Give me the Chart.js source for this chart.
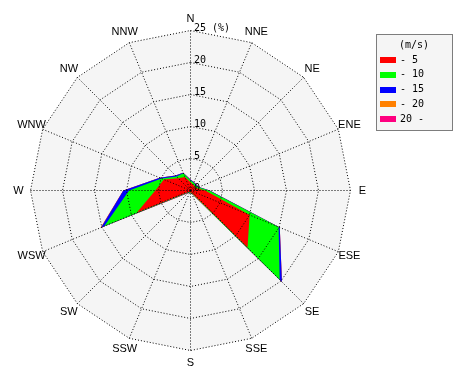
<!DOCTYPE html>
<html><head><meta charset="utf-8">
<script src="https://cdn.jsdelivr.net/npm/chart.js@4/dist/chart.umd.min.js"></script>
<style>html,body{margin:0;padding:0;background:#fff;}#wrap{width:470px;height:380px;position:relative;}</style>
</head><body><div id="wrap"><canvas id="c" width="470" height="380"></canvas></div>
<script>
// Wind directions (clockwise from North)
const directions = ['N','NNE','NE','ENE','E','ESE','SE','SSE','S','SSW','SW','WSW','W','WNW','NW','NNW'];
// Speed classes (m/s)
const speedClasses = ['- 5','- 10','- 15','- 20','20 -'];
const classColors = ['#ff0000','#00ff00','#0000ff','#ff8000','#ff0080'];
// Frequency (%) per direction for each speed class (not cumulative)
const speedUpTo5   = [1.3,1.0,0.9,1.0,2.3,10.0,12.6,0.4,0.3,0.3,0.3,9.1,5.5,4.5,2.7,2.3];
const speed5to10   = [0.3,0.3,0.3,0.3,0.6, 4.9, 7.1,0.1,0.1,0.1,0.1,5.5,4.1,0.4,0.4,0.6];
const speed10to15  = [0.1,0.1,0.1,0.1,0.1, 0.2, 0.5,0.0,0.0,0.0,0.1,0.5,0.9,0.3,0.2,0.1];
const speed15to20  = [0.0,0.0,0.0,0.0,0.0, 0.0, 0.0,0.0,0.0,0.0,0.1,0.1,0.0,0.0,0.0,0.0];
const speedOver20  = [0.0,0.0,0.0,0.0,0.0, 0.0, 0.0,0.0,0.0,0.0,0.0,0.0,0.0,0.0,0.0,0.0];
// Radial tick labels
const radialTickValues = [0,5,10,15,20,25];
const radialTickLabels = ['0','5','10','15','20','25 (%)'];
const legendTitle = '(m/s)';

const classSeries = [speedUpTo5, speed5to10, speed10to15, speed15to20, speedOver20];
// stacked (cumulative) values for the rose
const cumulative = [];
classSeries.forEach((s, k) => {
  cumulative.push(s.map((v, i) => +(v + (k ? cumulative[k-1][i] : 0)).toFixed(2)));
});

const CX = 190.5, CY = 190.5, RAD = 160, LABEL_R = 172;
const BG = '#f5f5f5';
const MONO = '"DejaVu Sans Mono", "Liberation Mono", monospace';
const LABEL_FONT = { family: '"Liberation Sans", Arial, sans-serif', size: 11 };

const bgPlugin = {
  id: 'roseBg',
  beforeDatasetsDraw(chart) {
    const s = chart.scales.r, ctx = chart.ctx;
    ctx.save();
    ctx.beginPath();
    for (let i = 0; i < directions.length; i++) {
      const p = s.getPointPosition(i, s.getDistanceFromCenterForValue(s.max));
      i ? ctx.lineTo(p.x, p.y) : ctx.moveTo(p.x, p.y);
    }
    ctx.closePath();
    ctx.fillStyle = BG;
    ctx.fill();
    ctx.restore();
  }
};

const tickAndLegendPlugin = {
  id: 'tickLegend',
  afterDraw(chart) {
    const s = chart.scales.r, ctx = chart.ctx;
    ctx.save();
    ctx.font = '10px ' + MONO;
    ctx.fillStyle = '#000';
    ctx.textAlign = 'left';
    ctx.textBaseline = 'middle';
    radialTickValues.forEach((v, i) => {
      const d = s.getDistanceFromCenterForValue(v);
      ctx.fillText(radialTickLabels[i], s.xCenter + 3.5, s.yCenter - d - 2);
    });
    // legend box
    const bx = 376.5, by = 34.5, bw = 76, bh = 96;
    ctx.fillStyle = BG;
    ctx.fillRect(bx, by, bw, bh);
    ctx.strokeStyle = '#000';
    ctx.lineWidth = 1;
    ctx.setLineDash([1,1]);
    ctx.strokeRect(bx, by, bw, bh);
    ctx.setLineDash([]);
    ctx.fillStyle = '#000';
    ctx.textAlign = 'center';
    ctx.fillText(legendTitle, 414, 45);
    ctx.textAlign = 'left';
    chart.data.datasets.forEach((ds, i) => {
      const y = 60 + i * 14.8;
      ctx.fillStyle = ds.backgroundColor;
      ctx.fillRect(380, Math.round(y) - 3, 16, 6);
      ctx.fillStyle = '#000';
      ctx.fillText(ds.label, 400, y);
    });
    ctx.restore();
  }
};

new Chart(document.getElementById('c'), {
  type: 'radar',
  data: {
    labels: directions,
    datasets: speedClasses.map((lab, k) => ({
      label: lab,
      data: cumulative[k],
      backgroundColor: classColors[k],
      borderColor: classColors[k],
      borderWidth: 0,
      pointRadius: 0,
      pointHoverRadius: 0,
      fill: 'origin'
    }))
  },
  options: {
    responsive: false,
    devicePixelRatio: 1,
    animation: false,
    events: [],
    plugins: { legend: { display: false }, tooltip: { enabled: false } },
    elements: { line: { tension: 0 } },
    scales: {
      r: {
        min: 0, max: 25,
        ticks: { stepSize: 5, display: false, z: 1 },
        grid: { color: '#000', lineWidth: 1, z: 1 },
        border: { dash: [1, 2] },
        angleLines: { color: '#000', lineWidth: 1, borderDash: [1, 2] },
        pointLabels: { color: '#000', padding: 6, font: LABEL_FONT },
        afterFit(scale) {
          scale.xCenter = CX; scale.yCenter = CY; scale.drawingArea = RAD;
          const lh = LABEL_FONT.size * 1.2;
          (scale._pointLabelItems || []).forEach((it, i) => {
            const p = scale.getPointPosition(i, LABEL_R);
            const w = (it.right - it.left), h = (it.bottom - it.top);
            it.textAlign = 'center';
            it.x = p.x; it.y = p.y - lh / 2;
            it.left = p.x - w / 2; it.right = p.x + w / 2;
            it.top = p.y - h / 2; it.bottom = p.y + h / 2;
          });
        }
      }
    }
  },
  plugins: [bgPlugin, tickAndLegendPlugin]
});
</script></body></html>
